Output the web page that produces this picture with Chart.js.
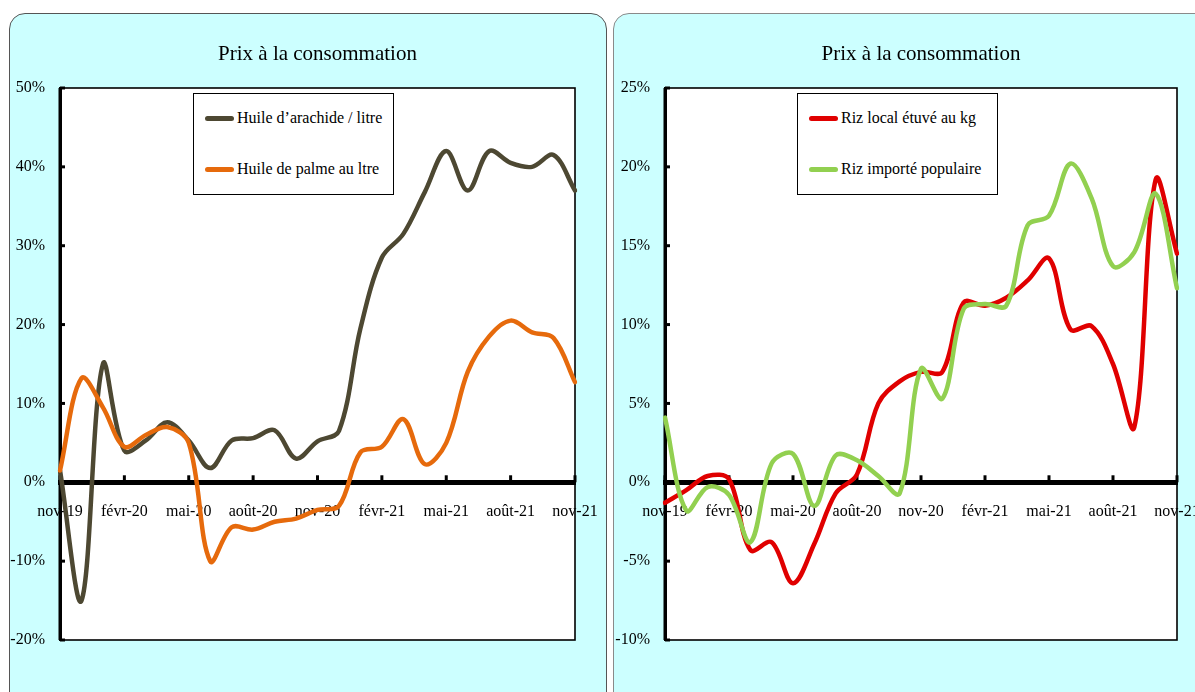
<!DOCTYPE html>
<html lang="fr">
<head>
<meta charset="utf-8">
<title>Prix à la consommation</title>
<script src="https://cdn.jsdelivr.net/npm/chart.js@4.4.1/dist/chart.umd.min.js"></script>
<style>
  html, body { margin:0; padding:0; background:#fff; width:1195px; height:692px; overflow:hidden; }
  .panel { position:absolute; top:13px; height:700px; background:#ccffff; border:1px solid #555; border-radius:16px; overflow:hidden; }
  #p1 { left:9px; width:596px; }
  #p2 { left:613px; width:620px; border-color:#8a8a8a; }
  .panel canvas { position:absolute; left:0; top:0; }
  .legend { position:absolute; left:183px; top:79px; width:199px; height:100px; background:#fff; border:1.5px solid #000;
            font-family:"Liberation Serif", serif; font-size:16px; color:#000; }
  .legend .item { position:absolute; left:11px; display:flex; align-items:center; white-space:nowrap; }
  .legend .sw { width:29px; height:5px; border-radius:3px; margin-right:3px; }
</style>
</head>
<body>
<div class="panel" id="p1"><canvas id="c1" width="596" height="678"></canvas><div class="legend" id="lg1"></div></div>
<div class="panel" id="p2"><canvas id="c2" width="600" height="678"></canvas><div class="legend" id="lg2"></div></div>
<script>
// mois de nov-19 à nov-21
const MONTHS = ['nov-19','déc-19','janv-20','févr-20','mars-20','avr-20','mai-20','juin-20','juil-20','août-20','sept-20','oct-20',
  'nov-20','déc-20','janv-21','févr-21','mars-21','avr-21','mai-21','juin-21','juil-21','août-21','sept-21','oct-21','nov-21'];

// huiles (%)
const huileArachide = [1.5, -15, 15, 4, 5.3, 7.6, 5.3, 1.8, 5.3, 5.6, 6.6, 3.0, 5.2, 6.5, 19.5, 28.5, 31.5, 36.8, 42, 37, 42, 40.5, 40, 41.5, 37];
const huilePalme    = [1.5, 13.2, 9.5, 4.5, 6, 7, 5, -10, -5.7, -6, -5, -4.6, -3.5, -3, 3.8, 4.5, 8, 2.3, 5, 14, 18.5, 20.5, 19, 18.3, 12.7];

// riz (%)
const rizLocal   = [-1.3, -0.5, 0.4, 0.2, -4.3, -3.8, -6.4, -3.9, -0.7, 0.5, 5, 6.4, 7, 7, 11.4, 11.2, 11.7, 12.8, 14.2, 9.7, 9.9, 7.5, 3.5, 19.2, 14.5];
const rizImporte = [4.1, -1.8, -0.3, -0.8, -3.8, 1.2, 1.8, -1.5, 1.7, 1.4, 0.4, -0.7, 7.2, 5.3, 11, 11.3, 11.2, 16.3, 16.9, 20.2, 18, 13.7, 14.6, 18.3, 12.3];

const FONT = '"Liberation Serif", serif';

// cadre blanc, ticks vers l'intérieur
const frame = {
  id: 'frame',
  beforeDraw(chart){
    const {ctx, chartArea:a} = chart;
    ctx.save();
    ctx.fillStyle = '#fff';
    ctx.fillRect(a.left, a.top, a.width, a.height);
    ctx.restore();
  },
  beforeDatasetsDraw(chart){
    const {ctx, chartArea:a, scales:{x, y}} = chart;
    ctx.save();
    ctx.strokeStyle = '#000';
    ctx.lineWidth = 1.6;
    ctx.strokeRect(a.left, a.top, a.width, a.height);
    ctx.lineWidth = 3;
    ctx.beginPath(); ctx.moveTo(a.left, a.top); ctx.lineTo(a.left, a.bottom); ctx.stroke();
    y.ticks.forEach(t=>{
      const py = y.getPixelForValue(t.value);
      ctx.beginPath(); ctx.moveTo(a.left, py); ctx.lineTo(a.left+5, py); ctx.stroke();
    });
    const y0 = y.getPixelForValue(0);
    MONTHS.forEach((m,i)=>{
      if(i%3) return;
      const px = x.getPixelForValue(i);
      ctx.beginPath(); ctx.moveTo(px, y0); ctx.lineTo(px, y0-7); ctx.stroke();
    });
    ctx.restore();
  }
};

function makeChart(id, series, yMin, yMax, step, yWidth, padRight){
  return new Chart(document.getElementById(id), {
    type: 'line',
    data: {
      labels: MONTHS,
      datasets: series.map(s=>({ label:s.label, data:s.data, borderColor:s.color, backgroundColor:s.color,
        borderWidth:4.5, pointRadius:0, tension:0.35, order:s.order, borderCapStyle:'round', borderJoinStyle:'round' }))
    },
    options: {
      responsive:false, animation:false,
      layout:{ padding:{ left:0, right:padRight, top:0, bottom:52 } },
      plugins:{
        legend:{ display:false }, tooltip:{ enabled:false },
        title:{ display:true, text:'Prix à la consommation', fullSize:false, color:'#000',
          font:{ family:FONT, size:21, weight:'normal' }, padding:{ top:28, bottom:20.8 } }
      },
      scales:{
        x:{
          position:{ y:0 },
          // tickLength sert seulement à décaler les libellés sous l'axe
          grid:{ display:false, drawTicks:true, tickLength:17 },
          border:{ display:true, color:'#000', width:5 },
          ticks:{ autoSkip:false, maxRotation:0, padding:3, color:'#000', font:{ family:FONT, size:16 },
            callback:(v,i)=> i%3===0 ? MONTHS[i] : null }
        },
        y:{
          min:yMin, max:yMax,
          afterFit:(s)=>{ s.width = yWidth; },
          grid:{ display:false, drawTicks:false },
          border:{ display:true, color:'#000', width:3 },
          ticks:{ stepSize:step, padding:15, color:'#000', font:{ family:FONT, size:16 }, callback:v=> v + '%' }
        }
      }
    },
    plugins:[frame]
  });
}

function htmlLegend(chart, el){
  chart.data.datasets.forEach((d,i)=>{
    const it = document.createElement('div');
    it.className = 'item';
    it.style.top = (i===0 ? 15 : 66) + 'px';
    it.innerHTML = `<span class="sw" style="background:${d.borderColor}"></span><span>${d.label}</span>`;
    el.appendChild(it);
  });
}

const c1 = makeChart('c1', [
  { label:'Huile d\u2019arachide / litre', data:huileArachide, color:'#4d4832', order:2 },
  { label:'Huile de palme au ltre', data:huilePalme, color:'#e66a0c', order:1 }
], -20, 50, 10, 50, 31);
htmlLegend(c1, document.getElementById('lg1'));

const c2 = makeChart('c2', [
  { label:'Riz local étuvé au kg', data:rizLocal, color:'#e00000', order:2 },
  { label:'Riz importé populaire', data:rizImporte, color:'#92d050', order:1 }
], -10, 25, 5, 51, 37);
htmlLegend(c2, document.getElementById('lg2'));
</script>
</body>
</html>
